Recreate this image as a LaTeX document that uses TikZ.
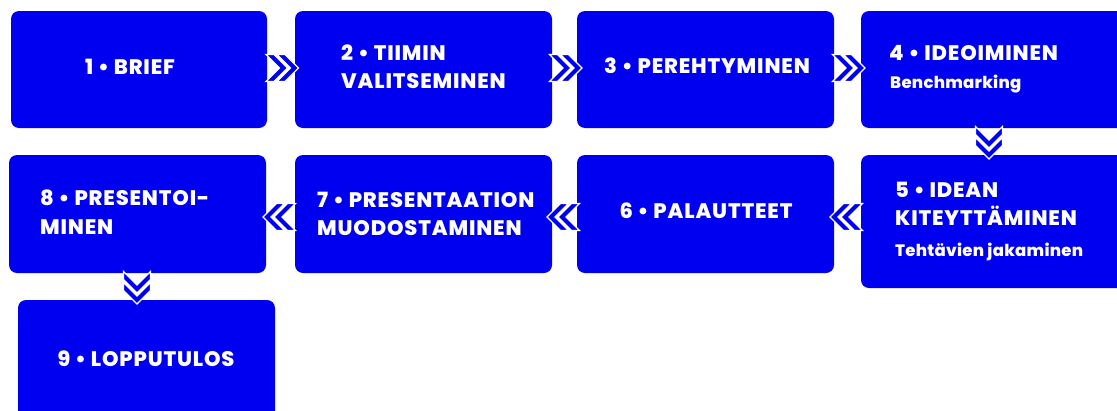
\documentclass[tikz,border=0pt]{standalone}
\usepackage{fontspec}
\setmainfont{Poppins}[BoldFont={Poppins ExtraBold}, LetterSpace=4]
\newfontfamily\subfont{Poppins}[BoldFont={Poppins ExtraBold}, LetterSpace=1.5]
\usetikzlibrary{calc}
\definecolor{mblue}{RGB}{0,0,240}
\tikzset{
  box/.style={fill=mblue, rounded corners=8pt},
  ttl/.style={text=white, font=\bfseries\fontsize{21}{24}\selectfont, inner sep=0pt},
  sub/.style={text=white, font=\subfont\bfseries\fontsize{16.5}{19}\selectfont, inner sep=0pt},
  chevpart/.style={fill=mblue, draw=white, line width=1.3pt, line join=miter},
  dchev/.pic={
    \foreach \xo in {-15,-4}{
      \filldraw[chevpart] (\xo,-13.5) -- ++(8,0) -- ++(13.5,13.5) -- ++(-13.5,13.5) -- ++(-8,0) -- ++(13.5,-13.5) -- cycle;
    }
  }
}
\begin{document}
\begin{tikzpicture}[x=1pt,y=-1pt]
\useasboundingbox (0,0) rectangle (1117,410);
% boxes
\path[box] (11,11) rectangle (267,128) node[pos=0.5, inner sep=0] (b1) {};
\path[box] (295,11) rectangle (552,128) node[pos=0.5, inner sep=0] (b2) {};
\path[box] (577,11) rectangle (834,128) node[pos=0.5, inner sep=0] (b3) {};
\path[box] (861,11) rectangle (1125,128) node[pos=0.5, inner sep=0] (b4) {};
\path[box] (861,155) rectangle (1125,288) node[pos=0.5, inner sep=0] (b5) {};
\path[box] (577,155) rectangle (834,273) node[pos=0.5, inner sep=0] (b6) {};
\path[box] (295,155) rectangle (552,273) node[pos=0.5, inner sep=0] (b7) {};
\path[box] (9,155) rectangle (266,273) node[pos=0.5, inner sep=0] (b8) {};
\path[box] (18,300) rectangle (275,430) node[pos=0.5, inner sep=0] (b9) {};
% named coordinates for connectors
\coordinate (c12) at (281,68);
\coordinate (c23) at (564.5,68);
\coordinate (c34) at (847.5,68);
\coordinate (c45) at (989,141.5);
\coordinate (c56) at (847.5,217);
\coordinate (c67) at (564.5,217);
\coordinate (c78) at (280.5,217);
\coordinate (c89) at (137,286.5);
% connectors
\pic at (c12) {dchev};
\pic at (c23) {dchev};
\pic at (c34) {dchev};
\pic[rotate=-90] at (c45) {dchev};
\pic[rotate=180] at (c56) {dchev};
\pic[rotate=180] at (c67) {dchev};
\pic[rotate=180] at (c78) {dchev};
\pic[rotate=-90] at (c89) {dchev};
% texts
\node[ttl, anchor=base] (t1) at (130,74) {1 • BRIEF};
\node[ttl, anchor=base west] (t2a) at (341,60) {2 • TIIMIN};
\node[ttl, anchor=base west] (t2b) at (341,88) {VALITSEMINEN};
\node[ttl, anchor=base] (t3) at (707,73) {3 • PEREHTYMINEN};
\node[ttl, anchor=base west] (t4a) at (889,60) {4 • IDEOIMINEN};
\node[sub, anchor=base west] (t4b) at (890,88) {Benchmarking};
\node[ttl, anchor=base west] (t5a) at (895,197) {5 • IDEAN};
\node[ttl, anchor=base west] (t5b) at (895,225) {KITEYTTÄMINEN};
\node[sub, anchor=base west] (t5c) at (895,256) {Tehtävien jakaminen};
\node[ttl, anchor=base] (t6) at (706,218) {6 • PALAUTTEET};
\node[ttl, anchor=base west] (t7a) at (317,207) {7 • PRESENTAATION};
\node[ttl, anchor=base west] (t7b) at (317,235) {MUODOSTAMINEN};
\node[ttl, anchor=base west] (t8a) at (40,205) {8 • PRESENTOI-};
\node[ttl, anchor=base west] (t8b) at (40,234) {MINEN};
\node[ttl, anchor=base] (t9) at (146,366) {9 • LOPPUTULOS};
\end{tikzpicture}
\end{document}
